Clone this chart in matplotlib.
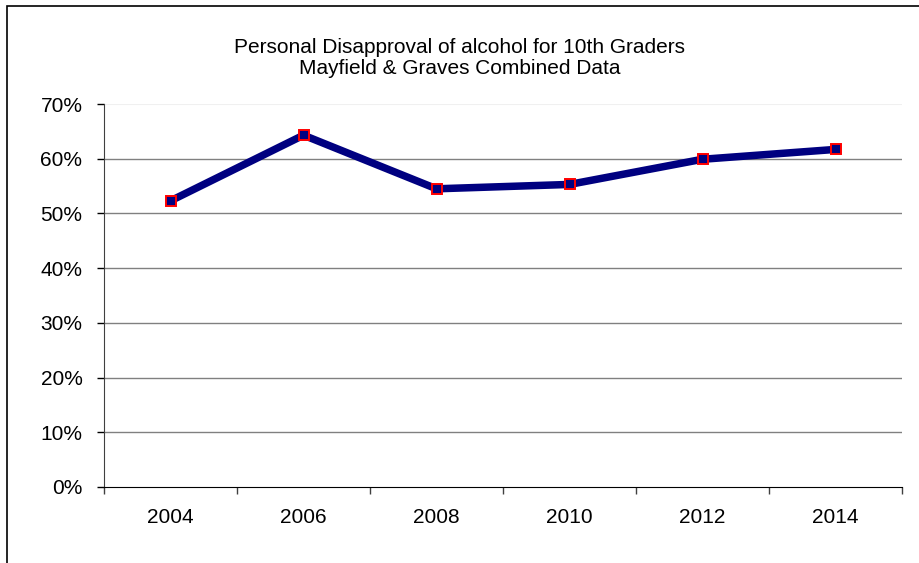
import numpy as np
import matplotlib.pyplot as plt
from matplotlib.patches import Rectangle

plt.rcParams['font.family'] = ['Liberation Sans', 'DejaVu Sans']

# Datos
years = ['2004', '2006', '2008', '2010', '2012', '2014']
disapproval = [0.523, 0.643, 0.545, 0.553, 0.599, 0.617]

fig = plt.figure(figsize=(9.19, 5.63), dpi=100)
ax = fig.add_axes([104/919, 76/563, 798/919, 383/563])

x = np.arange(len(years))
ax.plot(x, disapproval, color='#000080', lw=5.4, zorder=3,
        marker='s', markersize=7, markerfacecolor='#000080',
        markeredgecolor='red', markeredgewidth=1.4)

ax.set_xlim(-0.5, len(years) - 0.5)
ax.set_ylim(0, 0.7)
yt = np.arange(0, 0.71, 0.1)
ax.set_yticks(yt)
ax.set_yticklabels([f'{int(round(v*100))}%' for v in yt], fontsize=15)
for v in yt[1:-1]:
    ax.axhline(v, color='#808080', lw=1, zorder=1)
ax.axhline(0.7, color='#f0f0f0', lw=0.8, zorder=1)

ax.set_xticks(x)
ax.set_xticklabels(years, fontsize=15)
ax.set_xticks(np.arange(-0.5, len(years)), minor=True)
ax.tick_params(axis='x', which='major', length=0, pad=15)
ax.tick_params(axis='x', which='minor', length=5, width=1, color='#404040')
ax.tick_params(axis='y', length=5, width=1, pad=10.5)

for s in ['top', 'right']:
    ax.spines[s].set_visible(False)
ax.spines['left'].set_color('#404040')
ax.spines['bottom'].set_color('black')

fig.text(0.5, 1 - 58/563, 'Personal Disapproval of alcohol for 10th Graders\nMayfield & Graves Combined Data',
         ha='center', va='center', fontsize=15, linespacing=1.12)

# marco exterior
fig.patches.append(Rectangle((7/919, -0.1), 2, 1 - 6/563 + 0.1, transform=fig.transFigure,
                             fill=False, edgecolor='black', lw=1.2))

fig.savefig('out.png', dpi=100)
